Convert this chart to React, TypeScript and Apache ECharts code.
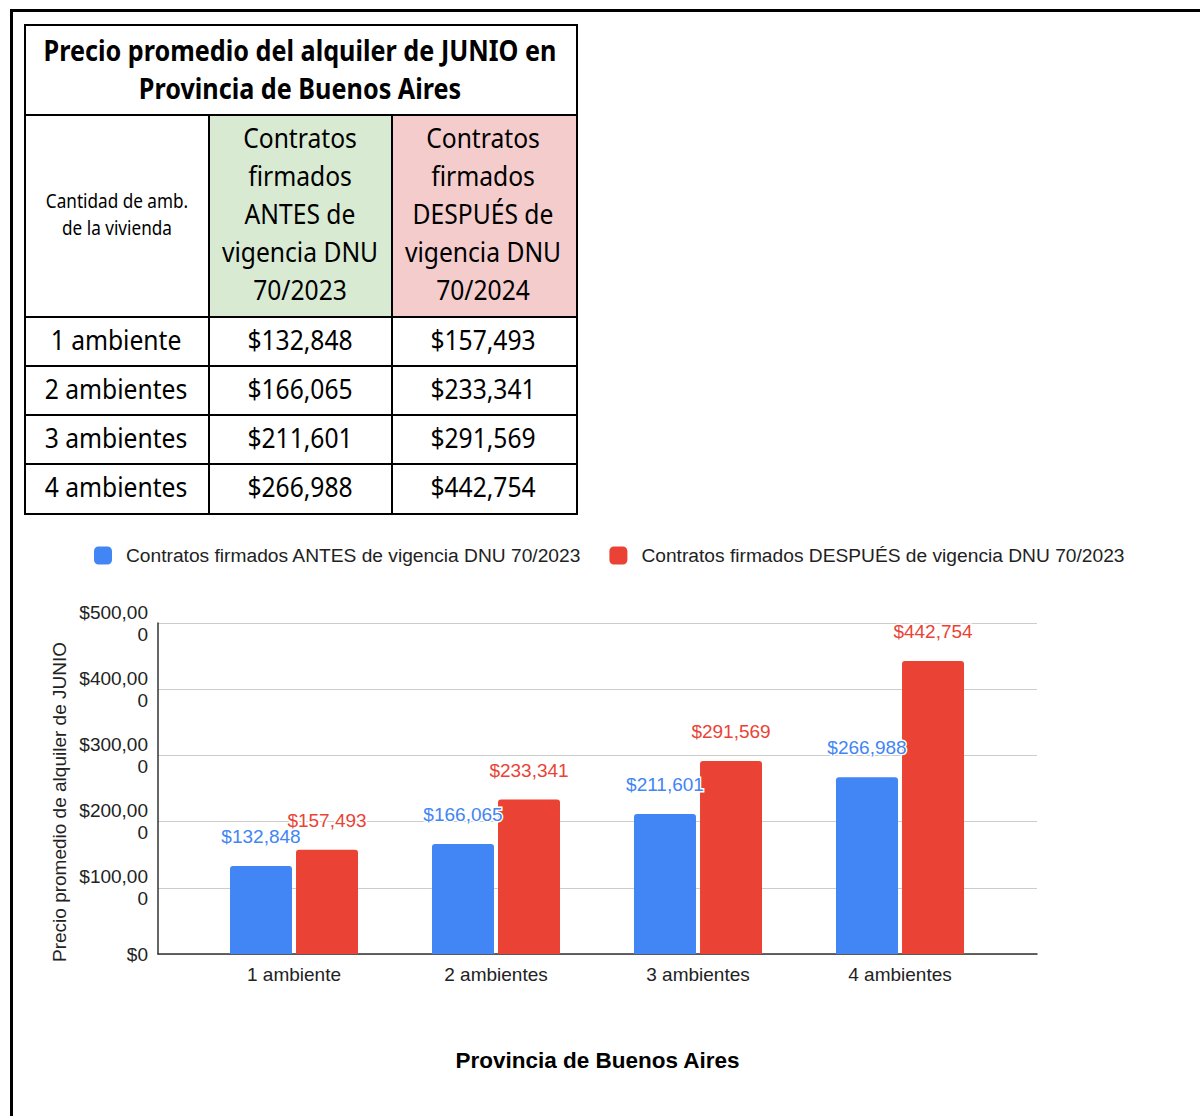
import React, { useEffect, useRef } from "react";
import * as echarts from "echarts";

const categories = ["1 ambiente", "2 ambientes", "3 ambientes", "4 ambientes"];
const antes = [132848, 166065, 211601, 266988];
const despues = [157493, 233341, 291569, 442754];
const seriesNames = [
  "Contratos firmados ANTES de vigencia DNU 70/2023",
  "Contratos firmados DESPUÉS de vigencia DNU 70/2023",
];
const yTickLabels = ["$0", "$100,00\n0", "$200,00\n0", "$300,00\n0", "$400,00\n0", "$500,00\n0"];
const yAxisTitle = "Precio promedio de alquiler de JUNIO";
const xAxisTitle = "Provincia de Buenos Aires";
const tableTitle = ["Precio promedio del alquiler de JUNIO en", "Provincia de Buenos Aires"];
const tableCorner = ["Cantidad de amb.", "de la vivienda"];
const headAntes = ["Contratos", "firmados", "ANTES de", "vigencia DNU", "70/2023"];
const headDespues = ["Contratos", "firmados", "DESPUÉS de", "vigencia DNU", "70/2024"];

const BLUE = "#4285F4";
const RED = "#EA4335";
const CHART_FONT = "'Liberation Sans', Arial, sans-serif";
const TABLE_FONT = "'Noto Sans', 'Open Sans', sans-serif";

const money = (v: number) => "$" + v.toLocaleString("en-US");

function txt(text: string, x: number, y: number, size: number, bold = false, sx = 0.88) {
  return {
    type: "text",
    x,
    y,
    scaleX: sx,
    style: {
      text,
      x: 0,
      y: 0,
      align: "center",
      verticalAlign: "middle",
      fontSize: size,
      fontWeight: bold ? "bold" : "normal",
      fontFamily: TABLE_FONT,
      fill: "#000",
    },
  };
}

function buildTable() {
  const els: any[] = [];
  const L = 25, R = 577, T = 25, B = 514;
  const c1 = 209, c2 = 392;
  const hRows = [T, 115, 317, 366, 415, 464, B];
  els.push({ type: "rect", shape: { x: c1, y: 115, width: c2 - c1, height: 202 }, style: { fill: "#d9ead3" } });
  els.push({ type: "rect", shape: { x: c2, y: 115, width: R - c2, height: 202 }, style: { fill: "#f4cccc" } });
  hRows.forEach((y) => els.push({ type: "rect", shape: { x: L - 1, y: y - 1, width: R - L + 2, height: 2 }, style: { fill: "#000" } }));
  [L, R].forEach((x) => els.push({ type: "rect", shape: { x: x - 1, y: T - 1, width: 2, height: B - T + 2 }, style: { fill: "#000" } }));
  [c1, c2].forEach((x) => els.push({ type: "rect", shape: { x: x - 1, y: 115, width: 2, height: B - 115 }, style: { fill: "#000" } }));
  els.push(txt(tableTitle[0], 300, 50, 28, true, 0.9));
  els.push(txt(tableTitle[1], 300, 88, 28, true, 0.9));
  els.push(txt(tableCorner[0], 117, 200, 19.5));
  els.push(txt(tableCorner[1], 117, 227, 19.5));
  const hy = [137, 175, 213, 251, 289];
  headAntes.forEach((t, i) => els.push(txt(t, 300, hy[i], 28)));
  headDespues.forEach((t, i) => els.push(txt(t, 483, hy[i], 28)));
  const ry = [339, 388, 437, 486];
  categories.forEach((c, i) => {
    els.push(txt(c, 116, ry[i], 28));
    els.push(txt(money(antes[i]), 300, ry[i], 28));
    els.push(txt(money(despues[i]), 483, ry[i], 28));
  });
  return els;
}

export default function App() {
  const ref = useRef<HTMLDivElement>(null);
  useEffect(() => {
    if (!ref.current) return;
    const chart = echarts.init(ref.current, null, { renderer: "svg" });
    const labelCommon = {
      show: true,
      position: "top",
      distance: 20,
      fontSize: 19,
      fontFamily: CHART_FONT,
      textBorderColor: "#fff",
      textBorderWidth: 3,
      formatter: (p: any) => money(p.value),
    };
    chart.setOption({
      animation: false,
      backgroundColor: "#fff",
      textStyle: { fontFamily: CHART_FONT },
      legend: {
        left: 94,
        top: 546,
        padding: 0,
        itemWidth: 18,
        itemHeight: 18,
        itemGap: 28,
        icon: "roundRect",
        textStyle: { fontSize: 19.2, color: "#222", fontFamily: CHART_FONT, padding: [0, 0, 0, 9] },
        data: seriesNames,
      },
      grid: [
        { left: 158, top: 623, width: 879, height: 331 },
        { left: 193, top: 623, width: 808, height: 331 },
      ],
      xAxis: [
        {
          type: "value",
          gridIndex: 0,
          min: 0,
          max: 1,
          axisLine: { show: true, onZero: false, lineStyle: { color: "#333", width: 1.5 } },
          axisTick: { show: false },
          axisLabel: { show: false },
          splitLine: { show: false },
          name: xAxisTitle,
          nameLocation: "middle",
          nameGap: 95,
          nameTextStyle: { fontSize: 22.5, fontWeight: "bold", color: "#000", fontFamily: CHART_FONT },
        },
        {
          type: "category",
          gridIndex: 1,
          data: categories,
          axisLine: { show: false },
          axisTick: { show: false },
          axisLabel: { fontSize: 19, color: "#222", margin: 11, fontFamily: CHART_FONT },
        },
      ],
      yAxis: [
        {
          type: "value",
          gridIndex: 0,
          min: 0,
          max: 500000,
          interval: 100000,
          axisLine: { show: true, lineStyle: { color: "#333", width: 1.5 } },
          axisTick: { show: false },
          axisLabel: {
            fontSize: 19,
            color: "#222",
            margin: 10,
            lineHeight: 22,
            fontFamily: CHART_FONT,
            formatter: (v: number) => yTickLabels[Math.round(v / 100000)],
          },
          splitLine: { lineStyle: { color: "#cccccc", width: 1 } },
        },
        { type: "value", gridIndex: 1, min: 0, max: 500000, show: false },
      ],
      series: [
        {
          name: seriesNames[0],
          type: "bar",
          xAxisIndex: 1,
          yAxisIndex: 1,
          data: antes,
          barWidth: 62,
          barGap: "6.5%",
          itemStyle: { color: BLUE, borderRadius: [3, 3, 0, 0] },
          label: { ...labelCommon, color: BLUE },
        },
        {
          name: seriesNames[1],
          type: "bar",
          xAxisIndex: 1,
          yAxisIndex: 1,
          data: despues,
          barWidth: 62,
          itemStyle: { color: RED, borderRadius: [3, 3, 0, 0] },
          label: { ...labelCommon, color: RED },
        },
      ],
      graphic: [
        { type: "rect", shape: { x: 10, y: 9, width: 1190, height: 3 }, style: { fill: "#000" } },
        { type: "rect", shape: { x: 10, y: 9, width: 3, height: 1107 }, style: { fill: "#000" } },
        {
          type: "text",
          x: 59,
          y: 802,
          rotation: Math.PI / 2,
          style: {
            text: yAxisTitle,
            x: 0,
            y: 0,
            align: "center",
            verticalAlign: "middle",
            fontSize: 19,
            fontFamily: CHART_FONT,
            fill: "#222",
          },
        },
        ...buildTable(),
      ],
    });
    return () => chart.dispose();
  }, []);
  return (
    <div
      ref={ref}
      style={{ position: "absolute", left: 0, top: 0, width: 1200, height: 1116, background: "#fff" }}
    />
  );
}
